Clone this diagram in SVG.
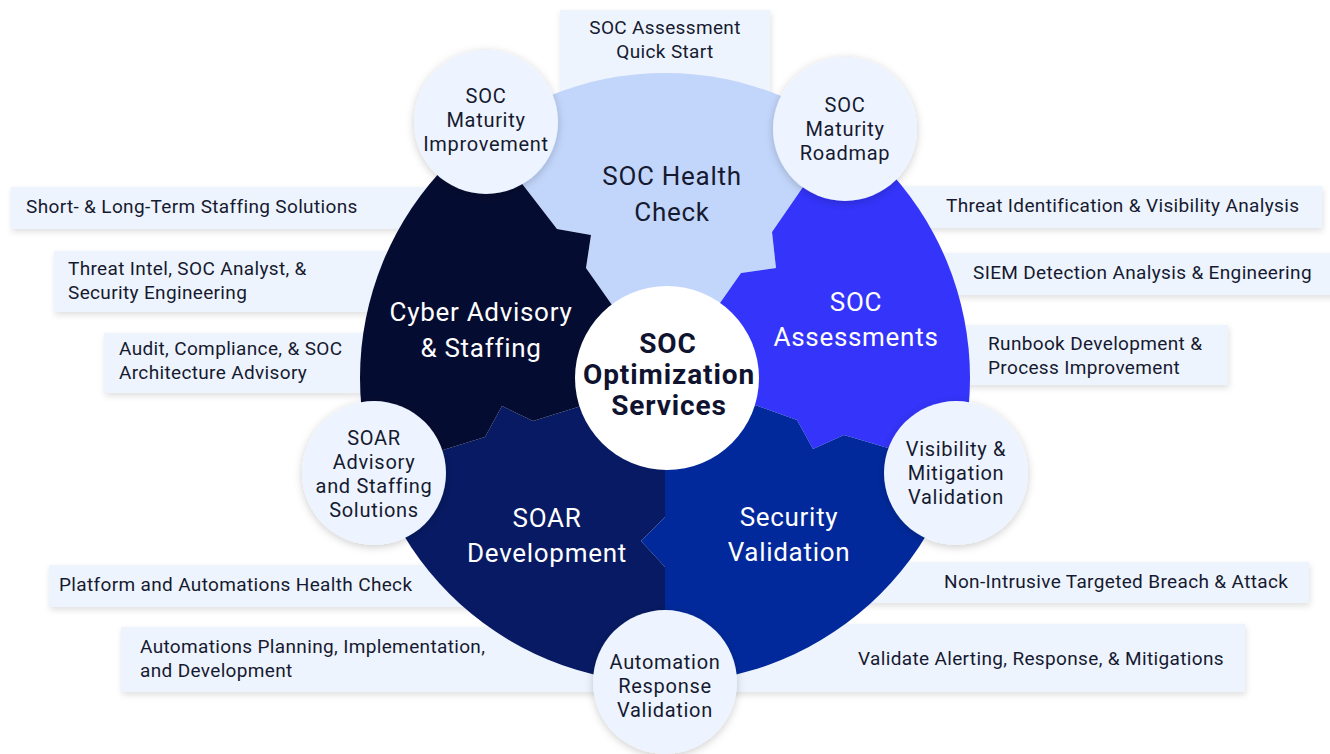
<svg xmlns="http://www.w3.org/2000/svg" width="1330" height="754" viewBox="0 0 1330 754">
<defs>
<style>
.box{fill:#EEF4FE;filter:url(#bsh)}
.bt{font-family:Roboto,"Noto Sans",sans-serif;font-size:19px;letter-spacing:0.35px;fill:#161a30}
.ct{font-family:Roboto,"Noto Sans",sans-serif;font-size:20px;letter-spacing:0.7px;fill:#161a30;text-anchor:middle}
.st{font-family:Roboto,"Noto Sans",sans-serif;font-size:26px;letter-spacing:0.7px;text-anchor:middle}
.sm{fill:#EDF4FF;filter:url(#csh)}
</style>
<filter id="bsh" x="-10%" y="-30%" width="120%" height="170%"><feDropShadow dx="1" dy="3" stdDeviation="3" flood-color="#000" flood-opacity="0.12"/></filter>
<filter id="csh" x="-30%" y="-30%" width="160%" height="160%"><feDropShadow dx="0" dy="2" stdDeviation="4" flood-color="#000" flood-opacity="0.2"/></filter>
<clipPath id="big"><circle cx="665" cy="378" r="305"/></clipPath>
</defs>
<rect width="1330" height="754" fill="#fff"/>

<g id="boxes">
<g id="box-quickstart"><rect class="box" x="560" y="10" width="210" height="100"/>
<text class="bt" text-anchor="middle"><tspan x="665" y="34">SOC Assessment</tspan><tspan x="665" y="58">Quick Start</tspan></text></g>
<g id="box-staffing"><rect class="box" x="11" y="187" width="500" height="42"/>
<text class="bt" x="26" y="213">Short- &amp; Long-Term Staffing Solutions</text></g>
<g id="box-threatintel"><rect class="box" x="54" y="251" width="420" height="61"/>
<text class="bt"><tspan x="68" y="275">Threat Intel, SOC Analyst, &amp;</tspan><tspan x="68" y="299">Security Engineering</tspan></text></g>
<g id="box-audit"><rect class="box" x="104" y="333" width="360" height="60"/>
<text class="bt"><tspan x="119" y="355">Audit, Compliance, &amp; SOC</tspan><tspan x="119" y="379">Architecture Advisory</tspan></text></g>
<g id="box-threatident"><rect class="box" x="840" y="186" width="482" height="42"/>
<text class="bt" x="946" y="212">Threat Identification &amp; Visibility Analysis</text></g>
<g id="box-siem"><rect class="box" x="880" y="253" width="470" height="42"/>
<text class="bt" x="973" y="279">SIEM Detection Analysis &amp; Engineering</text></g>
<g id="box-runbook"><rect class="box" x="880" y="325" width="348" height="60"/>
<text class="bt"><tspan x="988" y="350">Runbook Development &amp;</tspan><tspan x="988" y="374">Process Improvement</tspan></text></g>
<g id="box-platform"><rect class="box" x="49" y="565" width="460" height="42"/>
<text class="bt" x="59" y="591">Platform and Automations Health Check</text></g>
<g id="box-planning"><rect class="box" x="121" y="627" width="544" height="65"/>
<text class="bt"><tspan x="140" y="653">Automations Planning, Implementation,</tspan><tspan x="140" y="677">and Development</tspan></text></g>
<g id="box-breach"><rect class="box" x="840" y="562" width="469" height="41"/>
<text class="bt" x="944" y="588">Non-Intrusive Targeted Breach &amp; Attack</text></g>
<g id="box-alerting"><rect class="box" x="665" y="624" width="580" height="68"/>
<text class="bt" x="858" y="665">Validate Alerting, Response, &amp; Mitigations</text></g>
</g>

<g id="segments" clip-path="url(#big)">
<g id="seg-health"><polygon fill="#C2D6FB" points="665,378 612,305 586,268 591,235 557,229 523,185 421,53 421,-20 896,-20 896,52 803,187 772,232 776,268 741,273 720,303"/>
<text class="st" fill="#161a30"><tspan x="672" y="185">SOC Health</tspan><tspan x="672" y="221">Check</tspan></text></g>
<g id="seg-assess"><polygon fill="#3434FB" points="665,378 720,303 741,273 776,268 772,232 803,187 896,52 1100,52 1100,487 1020,487 888,448 844,435 813,449 797,420 755,405"/>
<text class="st" fill="#fff"><tspan x="856" y="311">SOC</tspan><tspan x="856" y="346">Assessments</tspan></text></g>
<g id="seg-security"><polygon fill="#01299B" points="665,378 755,405 797,420 813,449 844,435 888,448 1020,487 1100,487 1100,800 665,800 665,720 665,567 641,541 665,517"/>
<text class="st" fill="#fff"><tspan x="789" y="526">Security</tspan><tspan x="789" y="561">Validation</tspan></text></g>
<g id="seg-soar"><polygon fill="#071A63" points="665,378 665,517 641,541 665,567 665,800 200,800 200,489 317,489 443,450 485,437 502,406 533,421 578,407"/>
<text class="st" fill="#fff"><tspan x="547" y="527">SOAR</tspan><tspan x="547" y="562">Development</tspan></text></g>
<g id="seg-cyber"><polygon fill="#050C31" points="665,378 578,407 533,421 502,406 485,437 443,450 317,489 200,489 200,-20 421,-20 421,53 523,185 557,229 591,235 586,268 612,305"/>
<text class="st" fill="#fff"><tspan x="481" y="321">Cyber Advisory</tspan><tspan x="481" y="357">&amp; Staffing</tspan></text></g>
</g>

<g id="connectors"></g>

<g id="center"><circle cx="667" cy="378" r="92" fill="#fff"/>
<text font-family="Roboto,'Noto Sans',sans-serif" font-size="28" font-weight="bold" letter-spacing="0.9" fill="#0f1330" text-anchor="middle"><tspan x="668" y="353">SOC</tspan><tspan x="669" y="384">Optimization</tspan><tspan x="669" y="415">Services</tspan></text></g>

<g id="node-improvement"><circle class="sm" cx="486" cy="122" r="72"/>
<text class="ct"><tspan x="486" y="103">SOC</tspan><tspan x="486" y="127">Maturity</tspan><tspan x="486" y="151">Improvement</tspan></text></g>
<g id="node-roadmap"><circle class="sm" cx="845" cy="129" r="72"/>
<text class="ct"><tspan x="845" y="112">SOC</tspan><tspan x="845" y="136">Maturity</tspan><tspan x="845" y="160">Roadmap</tspan></text></g>
<g id="node-visibility"><circle class="sm" cx="956" cy="473" r="72"/>
<text class="ct"><tspan x="956" y="456">Visibility &amp;</tspan><tspan x="956" y="480">Mitigation</tspan><tspan x="956" y="504">Validation</tspan></text></g>
<g id="node-soaradvisory"><circle class="sm" cx="374" cy="473" r="72"/>
<text class="ct"><tspan x="374" y="445">SOAR</tspan><tspan x="374" y="469">Advisory</tspan><tspan x="374" y="493">and Staffing</tspan><tspan x="374" y="517">Solutions</tspan></text></g>
<g id="node-automation"><circle class="sm" cx="665" cy="682" r="72"/>
<text class="ct"><tspan x="665" y="669">Automation</tspan><tspan x="665" y="693">Response</tspan><tspan x="665" y="717">Validation</tspan></text></g>
</svg>
